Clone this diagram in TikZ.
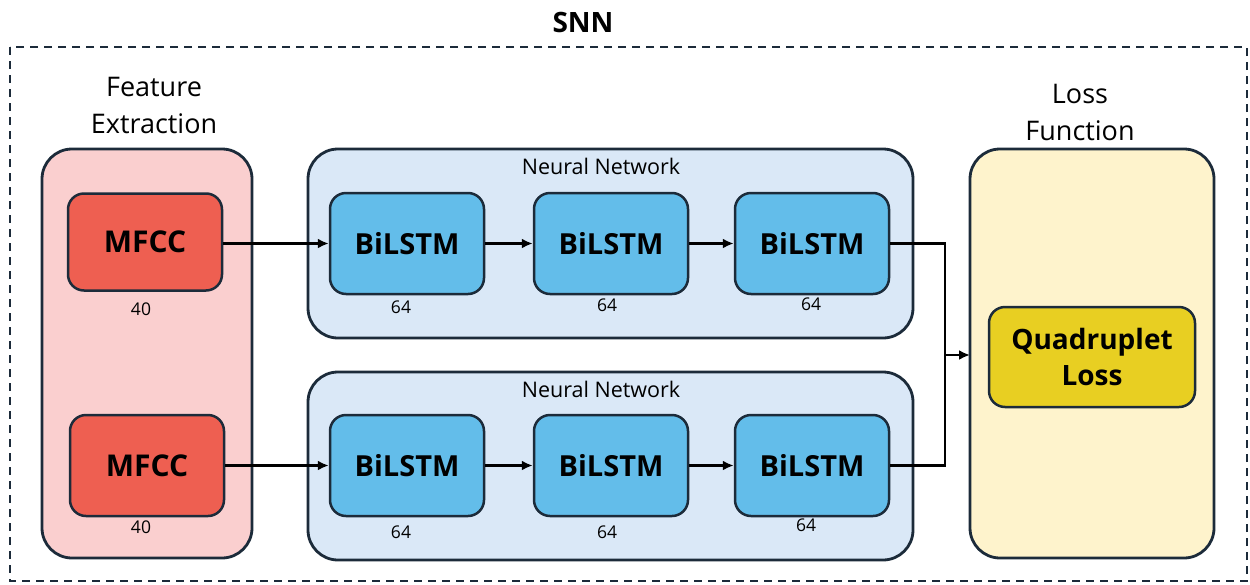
\documentclass[tikz,border=0pt]{standalone}
\usepackage{fontspec}
\setmainfont{Open Sans}
\usetikzlibrary{arrows.meta,positioning,calc}
\definecolor{edge}{HTML}{1C2B3A}
\definecolor{pinkbg}{HTML}{FACFCF}
\definecolor{mfccc}{HTML}{EE5F51}
\definecolor{bluebg}{HTML}{DAE8F7}
\definecolor{bilstmc}{HTML}{63BDEA}
\definecolor{yellowbg}{HTML}{FEF3CC}
\definecolor{quadc}{HTML}{E8CF22}
\tikzset{
  container/.style={draw=edge, line width=2.8pt, rounded corners=30pt},
  inner box/.style={draw=edge, line width=2.5pt, rounded corners=16pt, font=\fontsize{29}{33}\selectfont\bfseries, align=center},
  dimlabel/.style={font=\fontsize{17.5}{20}\selectfont},
  grouptitle/.style={font=\fontsize{27}{37}\selectfont, align=center},
  nntitle/.style={font=\fontsize{21.5}{24}\selectfont},
  flow/.style={draw=black, line width=2.2pt, -{Latex[length=11pt,width=10pt]}},
}
\begin{document}
\begin{tikzpicture}[x=1pt,y=-1pt]
\useasboundingbox (0,0) rectangle (1250,584);
% outer dashed box
\draw[edge, line width=2.4pt, dash pattern=on 8pt off 6pt] (10,47) rectangle (1247,581);
\node[font=\fontsize{28}{32}\selectfont\bfseries] (snn) at (583,22) {SNN};

% containers
\draw[container, fill=pinkbg] (42,149) rectangle (252,558);
\node[grouptitle] (fetitle) at (154,105) {Feature\\Extraction};

\draw[container, fill=bluebg] (308,149) rectangle (913,338);
\node[nntitle] (nn1) at (601,166) {Neural Network};
\draw[container, fill=bluebg] (308,372) rectangle (913,560);
\node[nntitle] (nn2) at (601,389) {Neural Network};

\draw[container, fill=yellowbg] (970,149) rectangle (1214,558);
\node[grouptitle] (lftitle) at (1080,112) {Loss\\Function};
\coordinate (lossin) at (970,355);

% MFCC
\node[inner box, fill=mfccc, minimum width=154pt, minimum height=97pt, font=\fontsize{30}{34}\selectfont\bfseries] (m1) at (145,242) {MFCC};
\node[inner box, fill=mfccc, minimum width=154pt, minimum height=101pt, font=\fontsize{30}{34}\selectfont\bfseries] (m2) at (147,465.5) {MFCC};
\node[dimlabel] (m1d) at (141,309) {40};
\node[dimlabel] (m2d) at (141,527) {40};

% BiLSTM top
\node[inner box, fill=bilstmc, minimum width=154pt, minimum height=101pt] (a1) at (407,243.5) {BiLSTM};
\node[inner box, fill=bilstmc, minimum width=154pt, minimum height=101pt] (a2) at (611,243.5) {BiLSTM};
\node[inner box, fill=bilstmc, minimum width=154pt, minimum height=101pt] (a3) at (812,243.5) {BiLSTM};
\node[dimlabel] (a1d) at (401,307) {64};
\node[dimlabel] (a2d) at (607,305) {64};
\node[dimlabel] (a3d) at (811,304) {64};

% BiLSTM bottom
\node[inner box, fill=bilstmc, minimum width=154pt, minimum height=101pt] (b1) at (407,465.5) {BiLSTM};
\node[inner box, fill=bilstmc, minimum width=154pt, minimum height=101pt] (b2) at (611,465.5) {BiLSTM};
\node[inner box, fill=bilstmc, minimum width=154pt, minimum height=101pt] (b3) at (812,465.5) {BiLSTM};
\node[dimlabel] (b1d) at (401,532) {64};
\node[dimlabel] (b2d) at (607,532) {64};
\node[dimlabel] (b3d) at (806,525) {64};

% Quadruplet
\node[inner box, fill=quadc, minimum width=206pt, minimum height=100pt, font=\fontsize{28}{36}\selectfont\bfseries] (q) at (1092,357) {Quadruplet\\Loss};

% connectors
\draw[flow] (m1.east |- a1.west) -- (a1.west);
\draw[flow] (a1.east) -- (a2.west);
\draw[flow] (a2.east) -- (a3.west);
\draw[flow] (m2.east) -- (b1.west);
\draw[flow] (b1.east) -- (b2.west);
\draw[flow] (b2.east) -- (b3.west);
\coordinate (j) at (945,355);
\draw[black, line width=2.2pt] (a3.east) -| (j);
\draw[black, line width=2.2pt] (b3.east) -| (j);
\draw[flow] (j) -- (lossin);
\end{tikzpicture}
\end{document}
